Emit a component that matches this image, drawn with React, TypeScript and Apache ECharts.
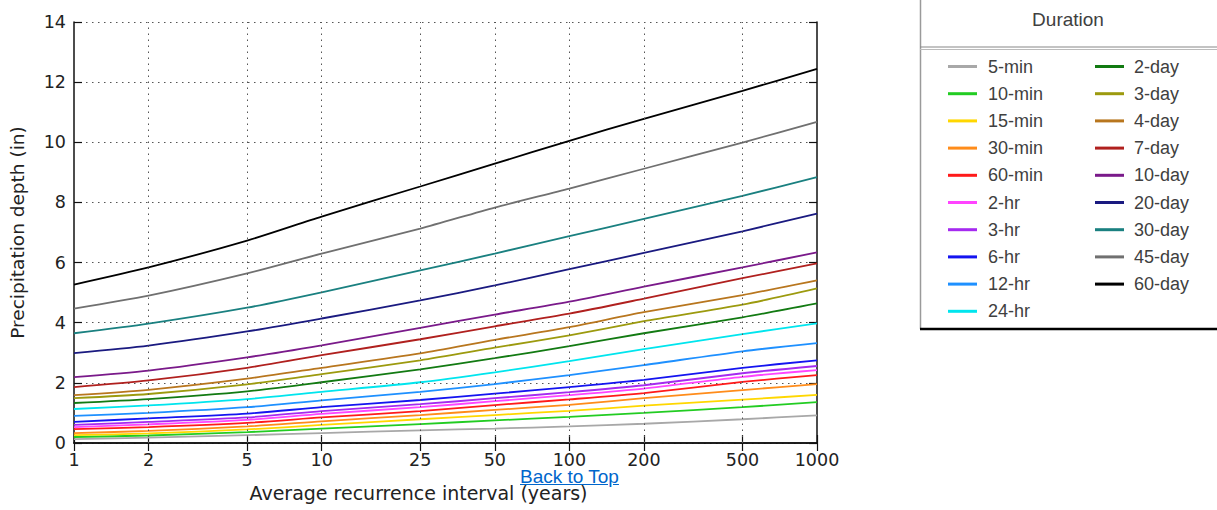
import React, { useEffect, useRef } from "react";
import * as echarts from "echarts";

// Average recurrence intervals (years)
const years = [1, 2, 5, 10, 25, 50, 100, 200, 500, 1000];
const gridYears = [2, 5, 10, 25, 50, 100, 200, 500];

const durations = [
  "5-min", "10-min", "15-min", "30-min", "60-min", "2-hr", "3-hr", "6-hr", "12-hr", "24-hr",
  "2-day", "3-day", "4-day", "7-day", "10-day", "20-day", "30-day", "45-day", "60-day",
];

const colors = [
  "#a8a8a8", "#22cc22", "#ffd700", "#ff8c1a", "#ff1a1a", "#ff44ff", "#a52af0", "#1414f0", "#1e90ff", "#00e5ee",
  "#127a12", "#9c9a0e", "#b8761e", "#b0201e", "#7a1a8a", "#1a1a80", "#1a8080", "#707070", "#000000",
];

// Precipitation depth (in) per duration, at each recurrence interval above
const min5 = [0.13, 0.18, 0.26, 0.33, 0.42, 0.48, 0.55, 0.64, 0.79, 0.92];
const min10 = [0.2, 0.25, 0.36, 0.48, 0.63, 0.75, 0.87, 1.0, 1.19, 1.36];
const min15 = [0.26, 0.32, 0.45, 0.6, 0.79, 0.93, 1.07, 1.24, 1.44, 1.6];
const min30 = [0.33, 0.4, 0.55, 0.72, 0.93, 1.1, 1.27, 1.49, 1.76, 1.96];
const min60 = [0.46, 0.53, 0.67, 0.85, 1.06, 1.26, 1.45, 1.66, 2.03, 2.26];
const hr2 = [0.53, 0.62, 0.77, 0.97, 1.19, 1.39, 1.59, 1.81, 2.2, 2.42];
const hr3 = [0.6, 0.7, 0.85, 1.06, 1.29, 1.49, 1.69, 1.92, 2.32, 2.56];
const hr6 = [0.7, 0.82, 0.98, 1.19, 1.43, 1.64, 1.86, 2.1, 2.5, 2.75];
const hr12 = [0.9, 1.0, 1.19, 1.42, 1.7, 1.96, 2.26, 2.59, 3.05, 3.32];
const hr24 = [1.13, 1.25, 1.46, 1.7, 2.02, 2.35, 2.72, 3.12, 3.62, 3.98];
const day2 = [1.33, 1.46, 1.72, 2.02, 2.45, 2.82, 3.22, 3.65, 4.18, 4.64];
const day3 = [1.49, 1.63, 1.95, 2.29, 2.75, 3.17, 3.58, 4.05, 4.6, 5.14];
const day4 = [1.59, 1.77, 2.14, 2.5, 2.98, 3.43, 3.85, 4.35, 4.92, 5.41];
const day7 = [1.86, 2.08, 2.5, 2.92, 3.45, 3.88, 4.3, 4.8, 5.48, 5.97];
const day10 = [2.19, 2.41, 2.85, 3.25, 3.83, 4.27, 4.7, 5.2, 5.84, 6.34];
const day20 = [2.99, 3.24, 3.71, 4.14, 4.74, 5.24, 5.78, 6.32, 7.04, 7.63];
const day30 = [3.65, 3.97, 4.5, 5.01, 5.74, 6.3, 6.88, 7.45, 8.22, 8.84];
const day45 = [4.47, 4.9, 5.64, 6.3, 7.13, 7.83, 8.46, 9.12, 9.99, 10.68];
const day60 = [5.27, 5.84, 6.73, 7.53, 8.53, 9.29, 10.05, 10.78, 11.71, 12.44];

const values = [
  min5, min10, min15, min30, min60, hr2, hr3, hr6, hr12, hr24,
  day2, day3, day4, day7, day10, day20, day30, day45, day60,
];

const yTicks = [0, 2, 4, 6, 8, 10, 12, 14];

export default function App() {
  const ref = useRef<HTMLDivElement>(null);

  useEffect(() => {
    if (!ref.current) return;
    const chart = echarts.init(ref.current, undefined, { renderer: "svg" });
    const tickFont = "DejaVu Sans";
    const legendFont = "Liberation Sans, Arial, sans-serif";

    const xBase = {
      type: "log",
      logBase: 10,
      min: 1,
      max: 1000,
      splitLine: { show: false },
      minorTick: { show: false },
      minorSplitLine: { show: false },
      axisLine: { show: true, lineStyle: { color: "#111", width: 1.5 } },
      axisTick: {
        show: true,
        inside: true,
        length: 8,
        customValues: years,
        lineStyle: { color: "#111", width: 1.2 },
      },
    };

    const yBase = {
      type: "value",
      min: 0,
      max: 14,
      interval: 2,
      axisLine: { show: true, lineStyle: { color: "#111", width: 1.5 } },
      axisTick: { show: true, inside: true, length: 8, lineStyle: { color: "#111", width: 1.2 } },
    };

    const series: any[] = durations.map((name, i) => ({
      name,
      type: "line",
      data: years.map((x, j) => [x, values[i][j]]),
      showSymbol: false,
      symbol: "none",
      smooth: 0.25,
      lineStyle: { color: colors[i], width: 1.8 },
      itemStyle: { color: colors[i] },
      silent: true,
    }));

    series[0].markLine = {
      silent: true,
      symbol: "none",
      label: { show: false },
      animation: false,
      lineStyle: { color: "#555", type: [1.5, 4.5], width: 1 },
      data: gridYears.map((v) => ({ xAxis: v })),
    };

    const legendCommon = {
      orient: "vertical",
      icon: "rect",
      itemWidth: 29,
      itemHeight: 3,
      itemGap: 9.2,
      padding: 0,
      selectedMode: false,
      top: 57.5,
    };

    chart.setOption({
      animation: false,
      grid: { left: 74, top: 22, right: 400, bottom: 67, containLabel: false },
      xAxis: [
        {
          ...xBase,
          position: "bottom",
          name: "Average recurrence interval (years)",
          nameLocation: "middle",
          nameGap: 40,
          nameTextStyle: {
            fontFamily: tickFont,
            fontSize: 19,
            color: "#222",
            padding: [0, 54, 0, 0],
          },
          axisLabel: {
            customValues: years,
            fontFamily: tickFont,
            fontSize: 17.5,
            color: "#222",
            margin: 8,
            formatter: (v: number) => String(Math.round(v)),
          },
        },
        {
          ...xBase,
          position: "top",
          axisLabel: { show: false },
        },
      ],
      yAxis: [
        {
          ...yBase,
          position: "left",
          name: "Precipitation depth (in)",
          nameLocation: "middle",
          nameGap: 47,
          nameTextStyle: { fontFamily: tickFont, fontSize: 18.5, color: "#222" },
          axisLabel: {
            fontFamily: tickFont,
            fontSize: 17.5,
            color: "#222",
            margin: 8,
            formatter: (v: number) => (yTicks.includes(v) ? String(v) : ""),
          },
          splitLine: { show: true, lineStyle: { color: "#555", type: [1.5, 4.5], width: 1 } },
        },
        {
          ...yBase,
          position: "right",
          axisLabel: { show: false },
          splitLine: { show: false },
        },
      ],
      legend: [
        {
          ...legendCommon,
          left: 948,
          data: durations.slice(0, 10),
          textStyle: {
            fontFamily: legendFont,
            fontSize: 18,
            lineHeight: 18,
            color: "#404040",
            padding: [0, 0, 0, 6],
          },
        },
        {
          ...legendCommon,
          left: 1095,
          data: durations.slice(10),
          textStyle: {
            fontFamily: legendFont,
            fontSize: 18,
            lineHeight: 18,
            color: "#404040",
            padding: [0, 0, 0, 5],
          },
        },
      ],
      graphic: [
        {
          type: "line",
          shape: { x1: 920.5, y1: 0, x2: 920.5, y2: 329 },
          style: { stroke: "#9a9a9a", lineWidth: 1.5 },
        },
        {
          type: "line",
          shape: { x1: 920, y1: 47, x2: 1217, y2: 47 },
          style: { stroke: "#888", lineWidth: 1.2 },
        },
        {
          type: "line",
          shape: { x1: 920, y1: 49.5, x2: 1217, y2: 49.5 },
          style: { stroke: "#bbb", lineWidth: 1.2 },
        },
        {
          type: "line",
          shape: { x1: 920, y1: 329, x2: 1217, y2: 329 },
          style: { stroke: "#000", lineWidth: 2.5 },
        },
        {
          type: "text",
          x: 1068,
          y: 19,
          style: {
            text: "Duration",
            fontFamily: legendFont,
            fontSize: 19,
            fill: "#404040",
            align: "center",
            verticalAlign: "middle",
          },
        },
      ],
      series,
    });

    return () => chart.dispose();
  }, []);

  return (
    <div style={{ position: "absolute", left: 0, top: 0, width: 1217, height: 510, background: "#fff" }}>
      <div ref={ref} style={{ position: "absolute", left: 0, top: 0, width: 1217, height: 510 }} />
      <a
        href="#"
        style={{
          position: "absolute",
          left: 520,
          top: 466,
          fontFamily: "Liberation Sans, Arial, sans-serif",
          fontSize: 19,
          lineHeight: "22px",
          color: "#0066cc",
          textDecoration: "underline",
          zIndex: 2,
        }}
      >
        Back to Top
      </a>
    </div>
  );
}
